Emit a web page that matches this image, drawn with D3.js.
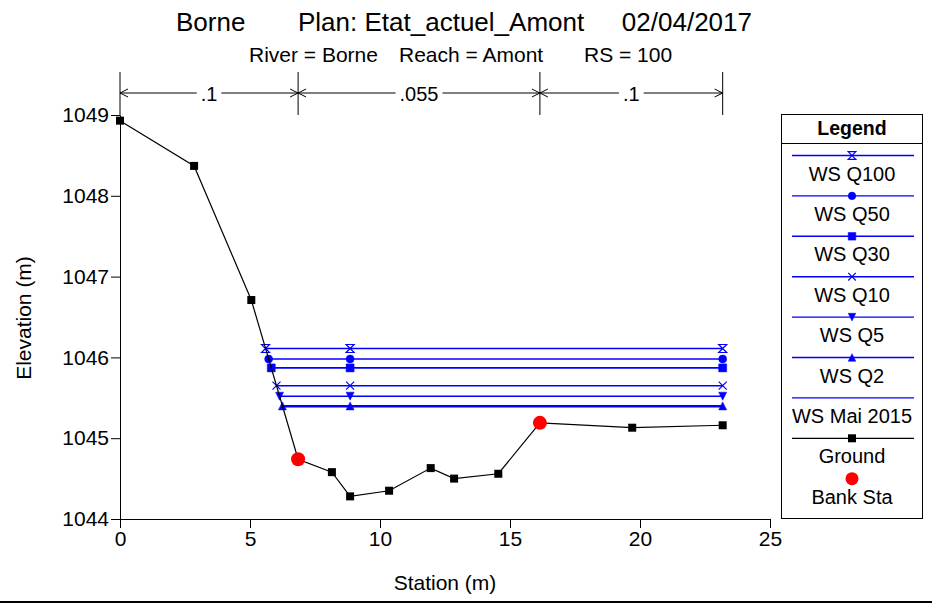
<!DOCTYPE html>
<html>
<head>
<meta charset="utf-8">
<script src="https://cdn.jsdelivr.net/npm/d3@7"></script>
<style>
  body { margin: 0; background: #fff; }
  svg { display: block; font-family: "Liberation Sans", Arial, sans-serif; }
</style>
</head>
<body>
<svg id="chart" width="932" height="604"></svg>
<script>
"use strict";

// ground profile
var groundSta = [0, 2.85, 5.05, 6.85, 8.15, 8.85, 10.35, 11.95, 12.85, 14.55, 16.15, 19.7, 23.18];
var groundElev = [1048.93, 1048.37, 1046.71, 1044.74, 1044.58, 1044.28, 1044.35, 1044.63, 1044.5, 1044.56, 1045.19, 1045.13, 1045.16];

// bank stations
var bankSta = [6.85, 16.15];
var bankElev = [1044.74, 1045.19];

// water surfaces
var wsNames = ["WS Q100", "WS Q50", "WS Q30", "WS Q10", "WS Q5", "WS Q2", "WS Mai 2015"];
var wsElev = [1046.11, 1045.98, 1045.87, 1045.65, 1045.52, 1045.40, 1045.39];
var wsSymbols = ["hourglass", "circle", "square", "x", "down", "up", "none"];
var wsMidSta = 8.85;

// manning's n
var nSta = [0, 6.85, 16.15, 23.18];
var nValues = [".1", ".055", ".1"];

var xTicks = [0, 5, 10, 15, 20, 25];
var yTicks = [1044, 1045, 1046, 1047, 1048, 1049];

var svg = d3.select("#chart");

var x = d3.scaleLinear().domain([0, 25]).range([120, 770]);
var y = d3.scaleLinear().domain([1044, 1049]).range([519, 115]);

function markerPath(type, s) {
  if (type == "hourglass") return "M" + (-s) + "," + (-s) + "L" + s + "," + (-s) + "L" + (-s) + "," + s + "L" + s + "," + s + "Z";
  if (type == "square") return "M" + (-s) + "," + (-s) + "h" + (2 * s) + "v" + (2 * s) + "h" + (-2 * s) + "Z";
  if (type == "x") return "M" + (-s) + "," + (-s) + "L" + s + "," + s + "M" + (-s) + "," + s + "L" + s + "," + (-s);
  if (type == "down") return "M" + (-s) + "," + (-s) + "L" + s + "," + (-s) + "L0," + s + "Z";
  if (type == "up") return "M" + (-s) + "," + s + "L" + s + "," + s + "L0," + (-s) + "Z";
  if (type == "circle") return d3.symbol(d3.symbolCircle, Math.PI * s * s)();
  return "";
}

function drawMarker(g, type, cx, cy, s) {
  if (type == "none") return;
  var open = (type == "hourglass" || type == "x");
  g.append("path")
    .attr("d", markerPath(type, s))
    .attr("transform", "translate(" + cx + "," + cy + ")")
    .attr("fill", open ? "none" : "#0000ff")
    .attr("stroke", "#0000ff")
    .attr("stroke-width", open ? 1.2 : 0.5);
}

// titles
var title = svg.append("g").attr("font-size", 26).attr("fill", "#000");
title.append("text").attr("x", 176).attr("y", 31).text("Borne");
title.append("text").attr("x", 298).attr("y", 31).text("Plan: Etat_actuel_Amont");
title.append("text").attr("x", 752).attr("y", 31).attr("text-anchor", "end").text("02/04/2017");

var sub = svg.append("g").attr("font-size", 21).attr("fill", "#000");
sub.append("text").attr("x", 249).attr("y", 62).text("River = Borne");
sub.append("text").attr("x", 399).attr("y", 62).text("Reach = Amont");
sub.append("text").attr("x", 584).attr("y", 62).text("RS = 100");

// axes
var xAxisG = svg.append("g").attr("transform", "translate(0," + y(1044) + ")");
xAxisG.call(d3.axisBottom(x).tickValues(d3.range(0, 26)).tickSize(6).tickFormat(""));
xAxisG.call(d3.axisBottom(x).tickValues(xTicks).tickSize(9).tickPadding(3).tickFormat(d3.format("d")));
xAxisG.selectAll("text").attr("font-size", 21).attr("font-family", "Liberation Sans, Arial, sans-serif").attr("fill", "#000");

var yAxisG = svg.append("g").attr("transform", "translate(" + x(0) + ",0)");
yAxisG.call(d3.axisLeft(y).tickValues(d3.range(1044, 1049.01, 0.2)).tickSize(6).tickFormat(""));
yAxisG.call(d3.axisLeft(y).tickValues(yTicks).tickSize(9).tickPadding(2).tickFormat(d3.format("d")));
yAxisG.selectAll("text").attr("font-size", 21).attr("font-family", "Liberation Sans, Arial, sans-serif").attr("fill", "#000");
svg.selectAll(".domain").attr("stroke", "#000");
svg.selectAll(".tick line").attr("stroke", "#000");

svg.append("text").attr("x", 445).attr("y", 590).attr("text-anchor", "middle")
  .attr("font-size", 21).text("Station (m)");
svg.append("text").attr("transform", "translate(31,318) rotate(-90)").attr("text-anchor", "middle")
  .attr("font-size", 21).text("Elevation (m)");

// manning's n bar
var nBarY = 93;
var nTop = 72;
var nG = svg.append("g").attr("stroke", "#000").attr("stroke-width", 1);
var nLabels = svg.append("g");
nSta.forEach(function(s) {
  nG.append("line").attr("x1", x(s)).attr("x2", x(s)).attr("y1", nTop).attr("y2", y(1049));
});
nValues.forEach(function(v, i) {
  var x0 = x(nSta[i]), x1 = x(nSta[i + 1]);
  nG.append("line").attr("x1", x0).attr("x2", x1).attr("y1", nBarY).attr("y2", nBarY);
  nG.append("path").attr("fill", "none")
    .attr("d", "M" + (x0 + 8) + "," + (nBarY - 4) + "L" + x0 + "," + nBarY + "L" + (x0 + 8) + "," + (nBarY + 4));
  nG.append("path").attr("fill", "none")
    .attr("d", "M" + (x1 - 8) + "," + (nBarY - 4) + "L" + x1 + "," + nBarY + "L" + (x1 - 8) + "," + (nBarY + 4));
  var t = nLabels.append("text").attr("x", (x0 + x1) / 2).attr("y", nBarY + 8)
    .attr("text-anchor", "middle").attr("font-size", 20).text(v);
  var bb = t.node().getBBox();
  nLabels.insert("rect", function() { return t.node(); })
    .attr("x", bb.x - 4).attr("y", nBarY - 2).attr("width", bb.width + 8).attr("height", 4)
    .attr("fill", "#fff");
});

// water surfaces
function leftIntersect(elev) {
  for (var i = 0; i < groundSta.length - 1; i++) {
    var e0 = groundElev[i], e1 = groundElev[i + 1];
    if (e0 >= elev && e1 <= elev) {
      return groundSta[i] + (e0 - elev) / (e0 - e1) * (groundSta[i + 1] - groundSta[i]);
    }
  }
  return groundSta[0];
}
var rightSta = groundSta[groundSta.length - 1];

var wsG = svg.append("g");
wsElev.forEach(function(e, i) {
  var s0 = leftIntersect(e);
  wsG.append("line")
    .attr("x1", x(s0)).attr("x2", x(rightSta))
    .attr("y1", y(e)).attr("y2", y(e))
    .attr("stroke", "#0000ff").attr("stroke-width", 1.6);
  [s0, wsMidSta, rightSta].forEach(function(s) {
    drawMarker(wsG, wsSymbols[i], x(s), y(e), 4);
  });
});

// ground
var groundPts = groundSta.map(function(s, i) { return [s, groundElev[i]]; });
svg.append("path").datum(groundPts)
  .attr("fill", "none").attr("stroke", "#000").attr("stroke-width", 1.2)
  .attr("d", d3.line().x(function(d) { return x(d[0]); }).y(function(d) { return y(d[1]); }));
svg.selectAll(".gpt").data(groundPts).enter().append("rect")
  .attr("class", "gpt")
  .attr("x", function(d) { return x(d[0]) - 4; })
  .attr("y", function(d) { return y(d[1]) - 4; })
  .attr("width", 8).attr("height", 8).attr("fill", "#000");
svg.selectAll(".bank").data(bankSta).enter().append("circle")
  .attr("class", "bank")
  .attr("cx", function(d) { return x(d); })
  .attr("cy", function(d, i) { return y(bankElev[i]); })
  .attr("r", 7).attr("fill", "#ff0000");

// legend
var lg = svg.append("g");
lg.append("rect").attr("x", 781.5).attr("y", 114.5).attr("width", 141).attr("height", 404)
  .attr("fill", "#fff").attr("stroke", "#000").attr("stroke-width", 1);
lg.append("line").attr("x1", 781.5).attr("x2", 922.5).attr("y1", 143.5).attr("y2", 143.5).attr("stroke", "#000");
lg.append("text").attr("x", 852).attr("y", 135).attr("text-anchor", "middle")
  .attr("font-size", 19.5).attr("font-weight", "bold").text("Legend");

var rowH = 40.4, row0 = 155.5;
var legendNames = wsNames.concat(["Ground", "Bank Sta"]);
legendNames.forEach(function(name, i) {
  var ly = row0 + i * rowH;
  if (i < wsNames.length) {
    lg.append("line").attr("x1", 792).attr("x2", 914).attr("y1", ly).attr("y2", ly)
      .attr("stroke", "#0000ff").attr("stroke-width", 1.4);
    drawMarker(lg, wsSymbols[i], 852, ly, 3.8);
  } else if (name == "Ground") {
    lg.append("line").attr("x1", 792).attr("x2", 914).attr("y1", ly).attr("y2", ly)
      .attr("stroke", "#000").attr("stroke-width", 1.2);
    lg.append("rect").attr("x", 848).attr("y", ly - 4).attr("width", 8).attr("height", 8).attr("fill", "#000");
  } else {
    lg.append("circle").attr("cx", 852).attr("cy", ly).attr("r", 6.5).attr("fill", "#ff0000");
  }
  lg.append("text").attr("x", 852).attr("y", ly + 25).attr("text-anchor", "middle")
    .attr("font-size", 20).text(name);
});

// bottom rule
svg.append("line").attr("x1", 0).attr("x2", 932).attr("y1", 602).attr("y2", 602)
  .attr("stroke", "#000").attr("stroke-width", 2);
</script>
</body>
</html>
